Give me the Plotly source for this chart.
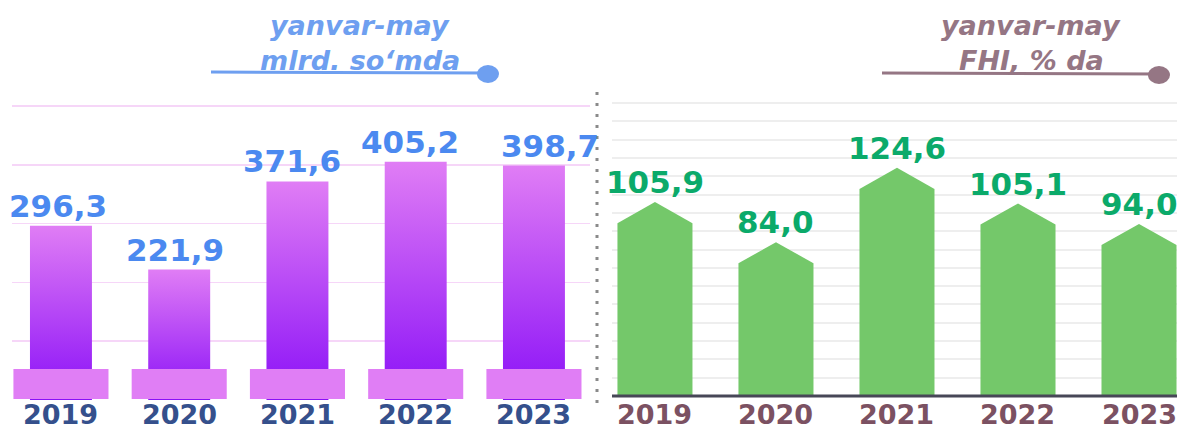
import plotly.graph_objects as go

years = ["2019", "2020", "2021", "2022", "2023"]
left_values = [296.3, 221.9, 371.6, 405.2, 398.7]
left_labels = ["296,3", "221,9", "371,6", "405,2", "398,7"]
right_values = [105.9, 84.0, 124.6, 105.1, 94.0]
right_labels = ["105,9", "84,0", "124,6", "105,1", "94,0"]
left_title = ["yanvar-may", "mlrd. so‘mda"]
right_title = ["yanvar-may", "FHI, % da"]

W, H = 1185, 432


def px(x):
    return x / W


def py(y):
    return (H - y) / H


FONT = "DejaVu Sans"
BLUE_LBL = "#4B89F0"
BLUE_TTL = "#6E9FF0"
MAUVE = "#957684"
GREEN_LBL = "#0BAA6A"
GREEN_BAR = "#74C86A"

fig = go.Figure()

# ---- left chart: gradient bars ----
hw = 0.262
for i, v in enumerate(left_values):
    fig.add_trace(go.Scatter(
        x=[i - hw, i - hw, i + hw, i + hw, i - hw],
        y=[0, v, v, 0, 0],
        mode="lines", fill="toself",
        line=dict(width=0, color="rgba(0,0,0,0)"),
        fillgradient=dict(type="vertical",
                          colorscale=[[0, "#8A10F7"], [1, "#E07DF5"]]),
        xaxis="x", yaxis="y", hoverinfo="skip", showlegend=False,
    ))

# ---- right chart: pentagon bars ----
hw2 = 0.31
shoulder = 11.5
for i, v in enumerate(right_values):
    fig.add_trace(go.Scatter(
        x=[i - hw2, i - hw2, i, i + hw2, i + hw2, i - hw2],
        y=[0, v - shoulder, v, v - shoulder, 0, 0],
        mode="lines", fill="toself",
        line=dict(width=0, color="rgba(0,0,0,0)"),
        fillcolor=GREEN_BAR,
        xaxis="x2", yaxis="y2", hoverinfo="skip", showlegend=False,
    ))

annotations = []
label_dx = {0: -3, 1: -4, 2: -5, 3: -6, 4: 16}
for i, (v, t) in enumerate(zip(left_values, left_labels)):
    annotations.append(dict(
        x=i, y=v, xref="x", yref="y", text=t, showarrow=False,
        yanchor="bottom", xanchor="center", xshift=label_dx.get(i, 0),
        font=dict(family=FONT, size=31, color=BLUE_LBL, weight="bold"),
    ))
for i, (v, t) in enumerate(zip(right_values, right_labels)):
    annotations.append(dict(
        x=i, y=v, xref="x2", yref="y2", text=t, showarrow=False,
        yanchor="bottom", xanchor="center",
        font=dict(family=FONT, size=31, color=GREEN_LBL, weight="bold"),
    ))

# category (year) labels under each chart
for xr, color in [("x", "#35508C"), ("x2", "#7B5162")]:
    for i, yr in enumerate(years):
        annotations.append(dict(
            x=i, y=py(414), xref=xr, yref="paper", text=yr,
            showarrow=False, xanchor="center", yanchor="middle",
            font=dict(family=FONT, size=27, color=color, weight="bold"),
        ))

# titles: two lines meeting at a common edge
for (cx, color, lines) in [(360, BLUE_TTL, left_title), (1031, MAUVE, right_title)]:
    for txt, anchor in zip(lines, ["bottom", "top"]):
        annotations.append(dict(
            x=px(cx), y=py(43), xref="paper", yref="paper", text=txt,
            showarrow=False, xanchor="center", yanchor=anchor,
            font=dict(family=FONT, size=27, color=color, weight="bold",
                      style="italic"),
        ))

shapes = []
# pedestals under left bars
for i in range(len(left_values)):
    shapes.append(dict(
        type="rect", xref="x", yref="paper",
        x0=i - 0.402, x1=i + 0.402, y0=py(399), y1=py(369),
        fillcolor="#E07EF5", line=dict(width=0), layer="above",
    ))
# dotted separator
shapes.append(dict(type="line", xref="paper", yref="paper",
                   x0=px(597), x1=px(597), y0=py(403), y1=py(92),
                   line=dict(color="#8A8A8A", width=3, dash="3px,8px")))
# right baseline
shapes.append(dict(type="line", xref="paper", yref="paper",
                   x0=px(612), x1=px(1177), y0=py(396), y1=py(396),
                   line=dict(color="#474757", width=3), layer="above"))
# title underlines with dots
for (x0, x1, y, color) in [(211, 488, 72, BLUE_TTL), (882, 1159, 73, MAUVE)]:
    shapes.append(dict(type="line", xref="paper", yref="paper",
                       x0=px(x0), x1=px(x1), y0=py(y), y1=py(y + 1),
                       line=dict(color=color, width=3)))
    shapes.append(dict(type="circle", xref="paper", yref="paper",
                       x0=px(x1 - 11), x1=px(x1 + 11),
                       y0=py(y + 11), y1=py(y - 7),
                       fillcolor=color, line=dict(width=0)))

L_PPU = 0.588   # pixels per unit, left chart
R_PPU = 1.831   # pixels per unit, right chart
L_TOP, R_TOP = 503, 161.5

fig.update_layout(
    width=W, height=H, autosize=False,
    margin=dict(l=0, r=0, t=0, b=0),
    paper_bgcolor="white", plot_bgcolor="white",
    showlegend=False,
    xaxis=dict(domain=[px(12), px(590)], range=[-0.414, 4.474],
               showticklabels=False, ticks="",
               showgrid=False, zeroline=False, showline=False,
               anchor="y", fixedrange=True),
    yaxis=dict(domain=[py(400), py(400 - L_TOP * L_PPU)], range=[0, L_TOP],
               dtick=100,
               showgrid=True, gridcolor="#F6D6F8", gridwidth=1.5,
               zeroline=False, showticklabels=False, anchor="x",
               fixedrange=True),
    xaxis2=dict(domain=[px(612), px(1177)], range=[-0.355, 4.314],
                showticklabels=False, ticks="",
                showgrid=False, zeroline=False, showline=False,
                anchor="y2", fixedrange=True),
    yaxis2=dict(domain=[py(396), py(396 - R_TOP * R_PPU)], range=[0, R_TOP],
                dtick=10,
                showgrid=True, gridcolor="#EEEEEE", gridwidth=2,
                zeroline=False, showticklabels=False, anchor="x2",
                fixedrange=True),
    annotations=annotations,
    shapes=shapes,
)

fig.write_html("out.html",
               config={"displayModeBar": False, "staticPlot": True},
               post_script="document.body.style.margin='0';"
                           "document.body.style.overflow='hidden';")
